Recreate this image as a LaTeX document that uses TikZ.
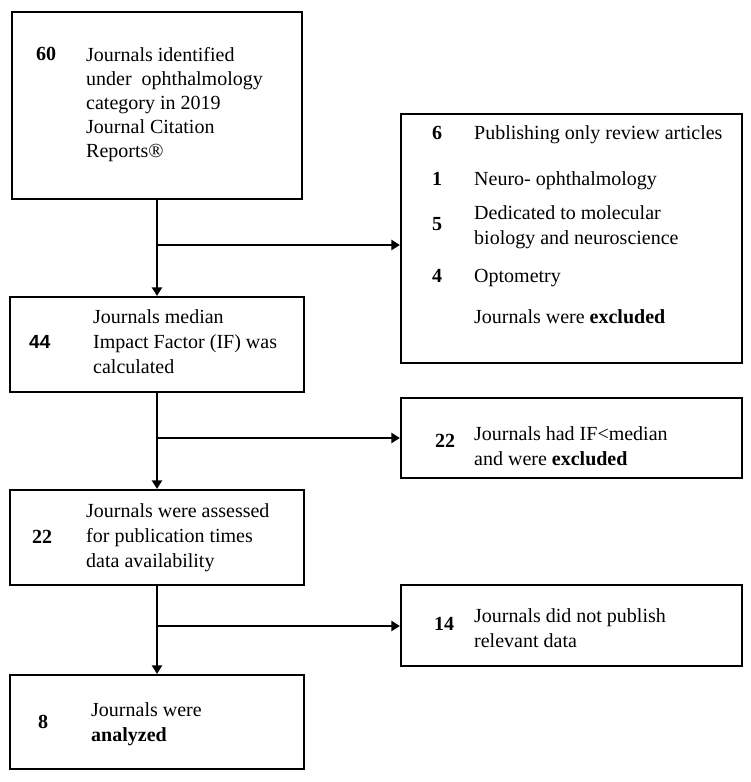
\documentclass[tikz,border=0pt]{standalone}
\usepackage{fontspec}
\setmainfont{Liberation Serif}
\newfontfamily\numsans{Liberation Sans}
\usetikzlibrary{arrows.meta}
\tikzset{
  box/.style={draw, line width=2.2pt, inner sep=0pt},
  num/.style={anchor=base west, inner sep=0pt, font=\bfseries\fontsize{20}{25}\selectfont},
  txt/.style={anchor=base west, inner sep=0pt, font=\fontsize{20}{25}\selectfont},
  arr/.style={line width=2.8pt, -{Triangle[length=8.5pt,width=10pt]}}
}
\newcommand{\lines}[1]{\parbox[t]{270pt}{\raggedright #1}}
\begin{document}
\begin{tikzpicture}[x=1pt,y=-1pt]
\useasboundingbox (0,0) rectangle (750,782);
% left column
\node[box, minimum width=290pt, minimum height=187pt] (jcr) at (157,105.5) {};
\node[box, minimum width=294pt, minimum height=95pt] (median) at (157,344.5) {};
\node[box, minimum width=294pt, minimum height=95pt] (assess) at (157,537.5) {};
\node[box, minimum width=294pt, minimum height=94pt] (analyzed) at (157,722) {};
% right column
\node[box, minimum width=341pt, minimum height=249pt] (excl) at (571.5,238.5) {};
\node[box, minimum width=341pt, minimum height=80pt] (lowif) at (571.5,438) {};
\node[box, minimum width=341pt, minimum height=81pt] (nodata) at (571.5,625.5) {};

% texts of the left column
\node[num] (n60) at (36,60) {60};
\node[txt] (t60) at (86,61) {\lines{\fontsize{20}{24}\selectfont Journals identified\\under~ ophthalmology\\category in 2019\\Journal Citation\\Reports®}};
\node[num, font=\numsans\bfseries\fontsize{19}{25}\selectfont] (n44) at (29,348) {44};
\node[txt] (t44) at (93,323) {\lines{Journals median\\Impact Factor (IF) was\\calculated}};
\node[num] (n22a) at (32,543) {22};
\node[txt] (t22a) at (86,517) {\lines{Journals were assessed\\for publication times\\data availability}};
\node[num] (n8) at (38,728) {8};
\node[txt] (t8) at (91,716) {\lines{Journals were\\\textbf{analyzed}}};

% texts of the right column
\node[num] (n6) at (432,139) {6};
\node[txt] (t6) at (474,139) {Publishing only review articles};
\node[num] (n1) at (432,185) {1};
\node[txt] (t1) at (474,185) {Neuro- ophthalmology};
\node[num] (n5) at (432,230) {5};
\node[txt] (t5) at (474,219) {\lines{Dedicated to molecular\\biology and neuroscience}};
\node[num] (n4) at (432,282) {4};
\node[txt] (t4) at (474,282) {Optometry};
\node[txt] (tex) at (474,323) {Journals were \textbf{excluded}};
\node[num] (n22b) at (435,447) {22};
\node[txt] (t22b) at (474,440) {\lines{Journals had IF<median\\and were \textbf{excluded}}};
\node[num] (n14) at (434,630) {14};
\node[txt] (t14) at (474,622) {\lines{Journals did not publish\\relevant data}};

% connectors
\coordinate (j1) at (157,245);
\coordinate (j2) at (157,438);
\coordinate (j3) at (157,626);
\draw[arr] (jcr) -- (median);
\draw[arr] (median) -- (assess);
\draw[arr] (assess) -- (analyzed);
\draw[arr] (j1) -- (j1 -| excl.west);
\draw[arr] (j2) -- (j2 -| lowif.west);
\draw[arr] (j3) -- (j3 -| nodata.west);
\end{tikzpicture}
\end{document}
